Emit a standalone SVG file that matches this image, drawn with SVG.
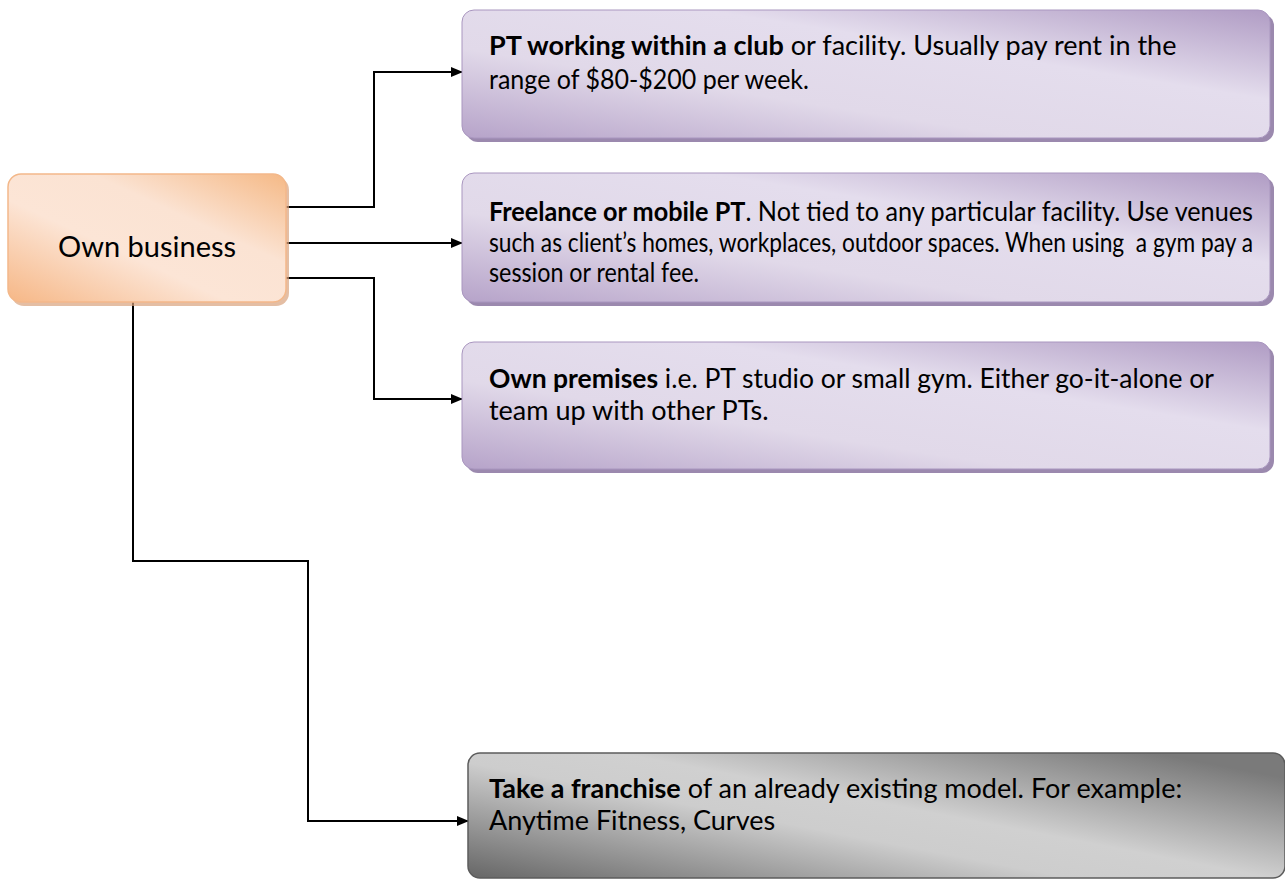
<svg xmlns="http://www.w3.org/2000/svg" width="1285" height="881" viewBox="0 0 1285 881">
  <style>
    .txt { font-family: Lato, "Open Sans", "Liberation Sans", sans-serif; fill: #000; font-size: 27px; }
    .lead { font-weight: bold; }
    .conn { fill: none; stroke: #000; stroke-width: 2; }
    .shadow { fill: #9b89ae; }
    .card { fill: url(#gPurple); stroke: #a996bf; stroke-width: 1; }
  </style>
  <defs>
    <linearGradient id="gPurple" x1="0" y1="1" x2="1" y2="0">
      <stop offset="0" stop-color="#b6a3c9"/>
      <stop offset="0.35" stop-color="#e1d9e9"/>
      <stop offset="0.65" stop-color="#e4dded"/>
      <stop offset="1" stop-color="#b09cc4"/>
    </linearGradient>
    <linearGradient id="gOrange" x1="0" y1="1" x2="1" y2="0">
      <stop offset="0" stop-color="#f6b786"/>
      <stop offset="0.4" stop-color="#fce5d6"/>
      <stop offset="0.65" stop-color="#fbe3d3"/>
      <stop offset="1" stop-color="#f5b986"/>
    </linearGradient>
    <linearGradient id="gGray" x1="0" y1="1" x2="1" y2="0.2">
      <stop offset="0" stop-color="#666666"/>
      <stop offset="0.45" stop-color="#cdcdcd"/>
      <stop offset="0.6" stop-color="#d0d0d0"/>
      <stop offset="1" stop-color="#7a7a7a"/>
    </linearGradient>
    <marker id="arrow" markerWidth="12" markerHeight="10" refX="11" refY="5" orient="auto" markerUnits="userSpaceOnUse">
      <path d="M0,0 L12,5 L0,10 Z" fill="#000"/>
    </marker>
  </defs>

  <!-- elbow connectors from the root box -->
  <g id="connectors">
    <path class="conn" d="M286,207 H374 V72 H462" marker-end="url(#arrow)"/>
    <path class="conn" d="M286,243 H462" marker-end="url(#arrow)"/>
    <path class="conn" d="M286,278 H374 V399 H462" marker-end="url(#arrow)"/>
    <path class="conn" d="M133,302 V561 H308 V821 H468" marker-end="url(#arrow)"/>
  </g>

  <!-- root -->
  <g id="own-business">
    <rect x="11" y="177" width="278" height="129" rx="13" fill="#d9a37e" opacity="0.7"/>
    <rect x="8" y="174" width="278" height="128" rx="13" fill="url(#gOrange)" stroke="#f3b88a" stroke-width="1.5"/>
    <text class="txt" x="147" y="257" style="font-size:29px" text-anchor="middle">Own business</text>
  </g>

  <g id="club">
    <rect class="shadow" x="466" y="14" width="808" height="128" rx="12"/>
    <rect class="card" x="462" y="10" width="808" height="128" rx="12"/>
    <text class="txt" x="489" y="55"><tspan class="lead">PT working within a club</tspan> or facility. Usually pay rent in the</text>
    <text class="txt" x="489" y="89" textLength="320" lengthAdjust="spacingAndGlyphs">range of $80-$200 per week.</text>
  </g>

  <g id="freelance">
    <rect class="shadow" x="466" y="177" width="808" height="129" rx="12"/>
    <rect class="card" x="462" y="173" width="808" height="129" rx="12"/>
    <text class="txt" x="489" y="221" textLength="764" lengthAdjust="spacingAndGlyphs"><tspan class="lead">Freelance or mobile PT</tspan>. Not tied to any particular facility. Use venues</text>
    <text class="txt" x="489" y="252" textLength="764" lengthAdjust="spacingAndGlyphs" xml:space="preserve">such as client’s homes, workplaces, outdoor spaces. When using  a gym pay a</text>
    <text class="txt" x="489" y="282" textLength="210" lengthAdjust="spacingAndGlyphs">session or rental fee.</text>
  </g>

  <g id="premises">
    <rect class="shadow" x="466" y="346" width="808" height="127" rx="12"/>
    <rect class="card" x="462" y="342" width="808" height="127" rx="12"/>
    <text class="txt" x="489" y="388" textLength="725" lengthAdjust="spacingAndGlyphs"><tspan class="lead">Own premises</tspan> i.e. PT studio or small gym. Either go-it-alone or</text>
    <text class="txt" x="489" y="420">team up with other PTs.</text>
  </g>

  <g id="franchise">
    <rect x="468" y="753" width="817" height="125" rx="12" fill="url(#gGray)" stroke="#5c5c5c" stroke-width="1.5"/>
    <text class="txt" x="489" y="798"><tspan class="lead">Take a franchise</tspan> of an already existing model. For example:</text>
    <text class="txt" x="489" y="830">Anytime Fitness, Curves</text>
  </g>
</svg>
